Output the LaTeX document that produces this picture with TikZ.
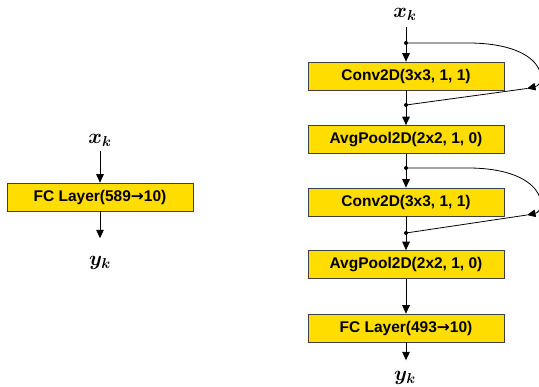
\documentclass[tikz,border=0pt]{standalone}
\usepackage{fontspec}
\usepackage{amsmath,bm}
\setmainfont{Liberation Sans}
\newfontfamily\arrowfont{DejaVu Sans}
\usetikzlibrary{arrows.meta}
\newcommand{\toarrow}{{\arrowfont\bfseries →}}
\begin{document}
\begin{tikzpicture}[x=1pt,y=-1pt,
  layer/.style={draw=black!75, line width=0.6pt, fill={rgb,255:red,255;green,221;blue,0},
    minimum height=28pt, inner sep=0pt, font=\fontsize{15.5}{18}\selectfont\bfseries},
  var/.style={inner sep=0pt, font=\fontsize{21}{23}\selectfont},
  flow/.style={line width=1pt, -{Triangle[width=7.5pt,length=8.5pt]}},
  link/.style={line width=0.8pt},
  dot/.style={circle, fill=black, inner sep=0pt, minimum size=4pt}]
\useasboundingbox (0,0) rectangle (539,387);

% single fully connected model
\node[var] (xk1) at (100,140) {$\bm{x_k}$};
\node[layer, minimum width=186pt] (fc1) at (100,197) {FC Layer(589\toarrow10)};
\node[var] (yk1) at (100,263) {$\bm{y_k}$};
\draw[flow] (100,151) coordinate (s1) -- (fc1.north);
\draw[flow] (fc1.south) -- ++(0,27) coordinate (e1);

% convolutional model with skip connections
\node[var] (xk) at (405,14) {$\bm{x_k}$};
\node[layer, minimum width=196pt] (c1) at (406,76) {Conv2D(3x3, 1, 1)};
\node[layer, minimum width=196pt] (p1) at (406,139.5) {AvgPool2D(2x2, 1, 0)};
\node[layer, minimum width=196pt] (c2) at (406,202) {Conv2D(3x3, 1, 1)};
\node[layer, minimum width=196pt] (p2) at (406,264.5) {AvgPool2D(2x2, 1, 0)};
\node[layer, minimum width=196pt] (fc) at (406,328) {FC Layer(493\toarrow10)};
\node[var] (yk) at (405,378) {$\bm{y_k}$};

\coordinate (d1) at (406,43);
\coordinate (d2) at (406,105);
\coordinate (d3) at (406,168);
\coordinate (d4) at (406,233);
\coordinate (a1) at (527,88.5);
\coordinate (a2) at (527,215);

\draw[flow] (406,27) -- (c1.north);
\draw[flow] (c1.south) -- (p1.north);
\draw[flow] (p1.south) -- (c2.north);
\draw[flow] (c2.south) -- (p2.north);
\draw[flow] (p2.south) -- (fc.north);
\draw[flow] (fc.south) -- ++(0,18) coordinate (e2);

% skip loops
\draw[link, -{Triangle[width=7.5pt,length=8.5pt]}] (d1) -- (470,43)
  .. controls (547,44) and (547,84) .. (a1);
\draw[link] (a1) -- (d2);
\draw[link, -{Triangle[width=7.5pt,length=8.5pt]}] (d3) -- (470,168)
  .. controls (547,169) and (547,211) .. (a2);
\draw[link] (a2) -- (d4);

\foreach \d in {d1,d2,d3,d4} \node[dot] at (\d) {};
\end{tikzpicture}
\end{document}
